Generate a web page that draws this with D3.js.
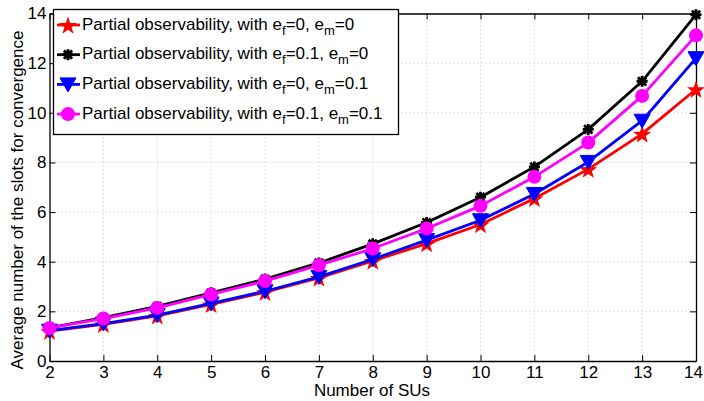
<!DOCTYPE html>
<html>
<head>
<meta charset="utf-8">
<script src="https://cdn.jsdelivr.net/npm/d3@7"></script>
<style>
  body { margin: 0; background: #fff; }
  text { font-family: "Liberation Sans", Arial, sans-serif; fill: #000; }
</style>
</head>
<body>
<script>
const W = 704, H = 401;

// data
const numSUs = [2, 3, 4, 5, 6, 7, 8, 9, 10, 11, 12, 13, 14];
const partialF0M0 = [1.2, 1.48, 1.82, 2.28, 2.77, 3.35, 4.03, 4.73, 5.5, 6.55, 7.73, 9.15, 10.95];
const partialF01M0 = [1.33, 1.75, 2.2, 2.75, 3.3, 3.95, 4.72, 5.58, 6.6, 7.82, 9.33, 11.27, 13.95];
const partialF0M01 = [1.22, 1.51, 1.85, 2.32, 2.81, 3.39, 4.1, 4.87, 5.67, 6.73, 8.02, 9.68, 12.2];
const partialF01M01 = [1.33, 1.71, 2.14, 2.68, 3.22, 3.86, 4.53, 5.34, 6.25, 7.42, 8.8, 10.68, 13.12];
const xTicks = [2, 3, 4, 5, 6, 7, 8, 9, 10, 11, 12, 13, 14];
const yTicks = [0, 2, 4, 6, 8, 10, 12, 14];

const series = [
  { values: partialF0M0, color: "#ff0000", marker: "star", ef: "0", em: "0" },
  { values: partialF01M0, color: "#000000", marker: "asterisk", ef: "0.1", em: "0" },
  { values: partialF0M01, color: "#0000ff", marker: "tri", ef: "0", em: "0.1" },
  { values: partialF01M01, color: "#ff00ff", marker: "circle", ef: "0.1", em: "0.1" }
];

const pLeft = 49.5, pRight = 696, pTop = 13.5, pBottom = 361;
const x = d3.scaleLinear().domain([2, 14]).range([pLeft, pRight]);
const y = d3.scaleLinear().domain([0, 14]).range([pBottom, pTop]);

const svg = d3.select("body").append("svg").attr("width", W).attr("height", H);

// grid
svg.append("g").selectAll("line").data(xTicks.slice(1, -1)).join("line")
  .attr("x1", d => x(d)).attr("x2", d => x(d)).attr("y1", pTop).attr("y2", pBottom)
  .attr("stroke", "#bdbdbd").attr("stroke-width", 1).attr("stroke-dasharray", "1,3");
svg.append("g").selectAll("line").data(yTicks.slice(1, -1)).join("line")
  .attr("y1", d => y(d)).attr("y2", d => y(d)).attr("x1", pLeft).attr("x2", pRight)
  .attr("stroke", "#bdbdbd").attr("stroke-width", 1).attr("stroke-dasharray", "1,3");

// axes (ticks inside, box on)
const tk = 6;
const axB = svg.append("g").attr("transform", `translate(0,${pBottom})`)
  .call(d3.axisBottom(x).tickValues(xTicks).tickSizeInner(-tk).tickSizeOuter(0).tickPadding(5));
const axT = svg.append("g").attr("transform", `translate(0,${pTop})`)
  .call(d3.axisTop(x).tickValues(xTicks).tickSizeInner(-tk).tickSizeOuter(0).tickFormat(""));
const axL = svg.append("g").attr("transform", `translate(${pLeft},0)`)
  .call(d3.axisLeft(y).tickValues(yTicks).tickSizeInner(-tk).tickSizeOuter(0).tickPadding(3));
const axR = svg.append("g").attr("transform", `translate(${pRight},0)`)
  .call(d3.axisRight(y).tickValues(yTicks).tickSizeInner(-tk).tickSizeOuter(0).tickFormat(""));
[axB, axT, axL, axR].forEach(a => {
  a.select(".domain").attr("stroke", "#000").attr("stroke-width", 1.3);
  a.selectAll(".tick line").attr("stroke", "#000").attr("stroke-width", 1);
  a.selectAll("text").style("font-size", "17px").style("font-family", "Liberation Sans, Arial, sans-serif");
});
// keep the last x label inside the window
axB.selectAll(".tick text").filter(d => d === 14).attr("dx", -3);

// markers
function starPath(R) {
  const r = R * 0.4;
  const pts = [];
  for (let i = 0; i < 10; i++) {
    const a = -Math.PI / 2 + i * Math.PI / 5;
    const rr = i % 2 === 0 ? R : r;
    pts.push([rr * Math.cos(a), rr * Math.sin(a)]);
  }
  return "M" + pts.map(p => p.join(",")).join("L") + "Z";
}
function drawMarker(g, type, color) {
  if (type === "star") {
    g.append("path").attr("d", starPath(9.5)).attr("fill", color).attr("transform", "translate(0,1)");
  } else if (type === "asterisk") {
    const s = 5.5;
    const d = `M${-s},0L${s},0M0,${-s}L0,${s}M${-s * 0.75},${-s * 0.75}L${s * 0.75},${s * 0.75}M${-s * 0.75},${s * 0.75}L${s * 0.75},${-s * 0.75}`;
    g.append("path").attr("d", d).attr("stroke", color).attr("stroke-width", 2.8).attr("fill", "none");
  } else if (type === "tri") {
    g.append("path").attr("d", "M-8,-6.5L8,-6.5L0,7.5Z").attr("fill", color).attr("stroke", color).attr("stroke-width", 1);
  } else {
    g.append("circle").attr("r", 7).attr("fill", color);
  }
}

const line = d3.line().x((d, i) => x(numSUs[i])).y(d => y(d));
series.forEach(s => {
  svg.append("path").datum(s.values).attr("d", line)
    .attr("fill", "none").attr("stroke", s.color).attr("stroke-width", 2.8).attr("stroke-linejoin", "round");
  svg.append("g").selectAll("g").data(s.values).join("g")
    .attr("transform", (d, i) => `translate(${x(numSUs[i])},${y(d)})`)
    .each(function () { drawMarker(d3.select(this), s.marker, s.color); });
});

// legend
const lg = svg.append("g");
lg.append("rect").attr("x", 53.5).attr("y", 9.5).attr("width", 345).attr("height", 125)
  .attr("fill", "#fff").attr("stroke", "#000").attr("stroke-width", 1.3);
series.forEach((s, i) => {
  const cy = 25 + i * 29.7;
  const row = lg.append("g");
  row.append("line").attr("x1", 57).attr("x2", 80).attr("y1", cy).attr("y2", cy)
    .attr("stroke", s.color).attr("stroke-width", 2.8);
  drawMarker(row.append("g").attr("transform", `translate(68,${cy})`), s.marker, s.color);
  const t = row.append("text").attr("x", 82).attr("y", cy + 4.5).style("font-size", "17px");
  t.append("tspan").text("Partial observability, with e");
  t.append("tspan").attr("dy", 5).style("font-size", "13px").text("f");
  t.append("tspan").attr("dy", -5).text(`=${s.ef}, e`);
  t.append("tspan").attr("dy", 5).style("font-size", "13px").text("m");
  t.append("tspan").attr("dy", -5).text(`=${s.em}`);
});

// axis titles
svg.append("text").attr("x", 372).attr("y", 395.5).attr("text-anchor", "middle")
  .style("font-size", "17px").text("Number of SUs");
svg.append("text").attr("transform", "translate(23,200) rotate(-90)")
  .attr("text-anchor", "middle").style("font-size", "17px")
  .text("Average number of the slots for convergence");
</script>
</body>
</html>
